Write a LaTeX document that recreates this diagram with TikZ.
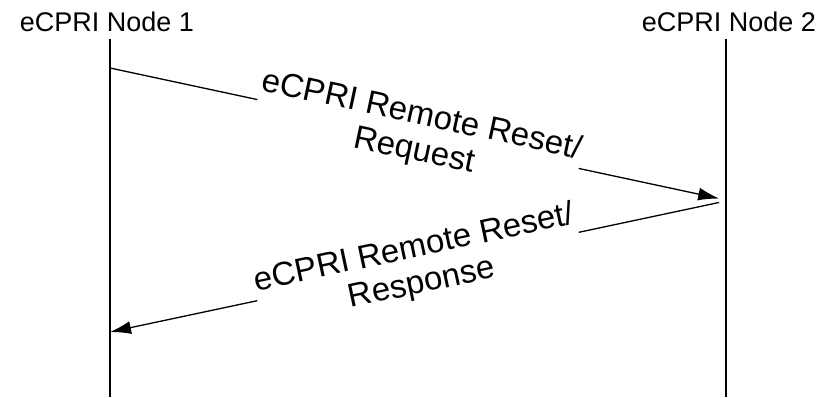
\documentclass[tikz,border=0pt]{standalone}
\usepackage{fontspec}
\setmainfont{Liberation Sans}
\usetikzlibrary{arrows.meta,positioning}
\tikzset{
  x=1pt,y=1pt,
  hdr/.style={font=\fontsize{27}{30}\selectfont,anchor=base},
  life/.style={line width=1.3pt},
  msg/.style={line width=1.3pt,-{Latex[length=21pt,width=13pt]}},
  msglabel/.style={font=\fontsize{33}{36}\selectfont,align=center,
    fill=white,inner sep=1pt,sloped,midway}
}
\begin{document}
\begin{tikzpicture}
\useasboundingbox (0,0) rectangle (826,397);
% node headers
\node[hdr] (n1) at (107,365) {eCPRI Node 1};
\node[hdr] (n2) at (729,365) {eCPRI Node 2};
% lifelines
\coordinate (n1top) at (110,358);
\coordinate (n1bot) at (110,0);
\coordinate (n2top) at (726,358);
\coordinate (n2bot) at (726,0);
\draw[life] (n1top) -- (n1bot);
\draw[life] (n2top) -- (n2bot);
% message end points
\coordinate (req1) at (110,329);
\coordinate (req2) at (726,197);
\coordinate (rsp2) at (726,196);
\coordinate (rsp1) at (110,65);
\draw[msg,shorten >=7pt] (req1) -- (req2)
  node[msglabel] {eCPRI Remote Reset/\\Request};
\draw[msg,shorten <=7pt] (rsp2) -- (rsp1)
  node[msglabel] {eCPRI Remote Reset/\\Response};
\end{tikzpicture}
\end{document}
